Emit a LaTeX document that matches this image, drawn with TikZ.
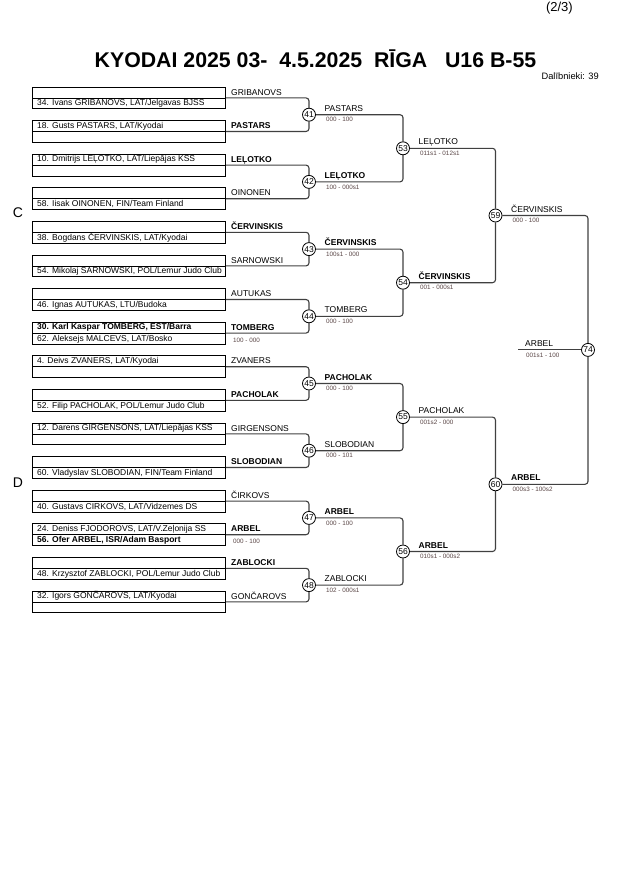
\documentclass[tikz,border=0pt]{standalone}
\usepackage{fontspec}
\setmainfont{Liberation Sans}
\usetikzlibrary{backgrounds}
\newcommand\fsz[1]{\fontsize{#1}{#1}\selectfont}
\definecolor{linecol}{rgb}{0.25,0.25,0.25}
\definecolor{scorecol}{rgb}{0.35,0.27,0.27}
\tikzset{
  entrybox/.style={draw=black, line width=0.8pt, minimum width=193pt, minimum height=21.8pt, inner sep=0pt, outer sep=0pt},
  etext/.style={anchor=base west, inner sep=0pt, font=\fsz{8.5}},
  nlabel/.style={anchor=base west, inner sep=0pt, font=\fsz{8.5}},
  score/.style={anchor=base west, inner sep=0pt, font=\fsz{6.3}, text=scorecol},
  match/.style={circle, draw=black, line width=0.8pt, fill=white, minimum size=13pt, inner sep=0pt, font=\fsz{8.5}},
  bracket/.style={draw=linecol, line width=1.1pt, rounded corners=3pt},
  midline/.style={draw=black, line width=0.8pt},
}
% box: name, y of middle line
\newcommand\ebox[2]{\node[entrybox] (#1) at (128.5,#2) {};\draw[midline] (#1.west) -- (#1.east);}
\newcommand\toptext[2]{\node[etext] at ([xshift=5pt,yshift=3.2pt]#1.west) {#2};}
\newcommand\bottext[2]{\node[etext] at ([xshift=5pt,yshift=-8pt]#1.west) {#2};}
\newcommand\blabel[2]{\node[nlabel] at ([xshift=6pt,yshift=2.8pt]#1.east) {#2};}
\newcommand\bscore[2]{\node[score] at ([xshift=8pt,yshift=-9pt]#1.east) {#2};}
\newcommand\wlabel[3]{\node[nlabel] at ([xshift=15.5pt,yshift=3.5pt]#1.center) {#2};
  \node[score] at ([xshift=17pt,yshift=-7.1pt]#1.center) {#3};}
\begin{document}
\begin{tikzpicture}[x=1pt,y=-1pt]
\useasboundingbox (0,0) rectangle (630,891);

% header
\node[anchor=base east, inner sep=0pt, font=\fsz{13}] (page) at (573,11.3) {(2/3)};
\node[anchor=base, inner sep=0pt, font=\fsz{21.3}\bfseries] (title) at (315.5,67.2) {KYODAI 2025 03-~~4.5.2025~~RĪGA~~~U16 B-55};
\node[anchor=base east, inner sep=0pt, font=\fsz{9.3}] (count) at (599,80) {Dalībnieki: 39};
\node[font=\fsz{14}, inner sep=0pt] (poolC) at (18,213) {C};
\node[font=\fsz{14}, inner sep=0pt] (poolD) at (18,483) {D};

% entry boxes
\ebox{b1}{97.9}   \bottext{b1}{34. Ivans GRIBANOVS, LAT/Jelgavas BJSS} \blabel{b1}{GRIBANOVS}
\ebox{b2}{131.5}  \toptext{b2}{18. Gusts PASTARS, LAT/Kyodai} \blabel{b2}{\bfseries PASTARS}
\ebox{b3}{165.1}  \toptext{b3}{10. Dmitrijs LEĻOTKO, LAT/Liepājas KSS} \blabel{b3}{\bfseries LEĻOTKO}
\ebox{b4}{198.7}  \bottext{b4}{58. Iisak OINONEN, FIN/Team Finland} \blabel{b4}{OINONEN}
\ebox{b5}{232.3}  \bottext{b5}{38. Bogdans ČERVINSKIS, LAT/Kyodai} \blabel{b5}{\bfseries ČERVINSKIS}
\ebox{b6}{265.9}  \bottext{b6}{54. Mikolaj SARNOWSKI, POL/Lemur Judo Club} \blabel{b6}{SARNOWSKI}
\ebox{b7}{299.5}  \bottext{b7}{46. Ignas AUTUKAS, LTU/Budoka} \blabel{b7}{AUTUKAS}
\ebox{b8}{333.1}  \toptext{b8}{\bfseries 30. Karl Kaspar TOMBERG, EST/Barra} \bottext{b8}{62. Aleksejs MALCEVS, LAT/Bosko} \blabel{b8}{\bfseries TOMBERG} \bscore{b8}{100 - 000}
\ebox{b9}{366.7}  \toptext{b9}{4. Deivs ZVANERS, LAT/Kyodai} \blabel{b9}{ZVANERS}
\ebox{b10}{400.3} \bottext{b10}{52. Filip PACHOLAK, POL/Lemur Judo Club} \blabel{b10}{\bfseries PACHOLAK}
\ebox{b11}{433.9} \toptext{b11}{12. Darens GIRGENSONS, LAT/Liepājas KSS} \blabel{b11}{GIRGENSONS}
\ebox{b12}{467.5} \bottext{b12}{60. Vladyslav SLOBODIAN, FIN/Team Finland} \blabel{b12}{\bfseries SLOBODIAN}
\ebox{b13}{501.1} \bottext{b13}{40. Gustavs CIRKOVS, LAT/Vidzemes DS} \blabel{b13}{ČIRKOVS}
\ebox{b14}{534.7} \toptext{b14}{24. Deniss FJODOROVS, LAT/V.Zeļonija SS} \bottext{b14}{\bfseries 56. Ofer ARBEL, ISR/Adam Basport} \blabel{b14}{\bfseries ARBEL} \bscore{b14}{000 - 100}
\ebox{b15}{568.3} \bottext{b15}{48. Krzysztof ZABLOCKI, POL/Lemur Judo Club} \blabel{b15}{\bfseries ZABLOCKI}
\ebox{b16}{601.9} \toptext{b16}{32. Igors GONČAROVS, LAT/Kyodai} \blabel{b16}{GONČAROVS}

% match circles
\node[match] (m41) at (309,114.7) {41};
\node[match] (m42) at (309,181.9) {42};
\node[match] (m43) at (309,249.1) {43};
\node[match] (m44) at (309,316.3) {44};
\node[match] (m45) at (309,383.5) {45};
\node[match] (m46) at (309,450.7) {46};
\node[match] (m47) at (309,517.9) {47};
\node[match] (m48) at (309,585.1) {48};
\node[match] (m53) at (403,148.3) {53};
\node[match] (m54) at (403,282.7) {54};
\node[match] (m55) at (403,417.1) {55};
\node[match] (m56) at (403,551.5) {56};
\node[match] (m59) at (495.5,215.5) {59};
\node[match] (m60) at (495.5,484.3) {60};
\node[match] (m74) at (588,349.9) {74};
\coordinate (fin) at (518,349.9);

% brackets
\begin{scope}[on background layer]
\draw[bracket] (b1.east) -| (m41.north); \draw[bracket] (b2.east) -| (m41.south);
\draw[bracket] (b3.east) -| (m42.north); \draw[bracket] (b4.east) -| (m42.south);
\draw[bracket] (b5.east) -| (m43.north); \draw[bracket] (b6.east) -| (m43.south);
\draw[bracket] (b7.east) -| (m44.north); \draw[bracket] (b8.east) -| (m44.south);
\draw[bracket] (b9.east) -| (m45.north); \draw[bracket] (b10.east) -| (m45.south);
\draw[bracket] (b11.east) -| (m46.north); \draw[bracket] (b12.east) -| (m46.south);
\draw[bracket] (b13.east) -| (m47.north); \draw[bracket] (b14.east) -| (m47.south);
\draw[bracket] (b15.east) -| (m48.north); \draw[bracket] (b16.east) -| (m48.south);
\draw[bracket] (m41.east) -| (m53.north); \draw[bracket] (m42.east) -| (m53.south);
\draw[bracket] (m43.east) -| (m54.north); \draw[bracket] (m44.east) -| (m54.south);
\draw[bracket] (m45.east) -| (m55.north); \draw[bracket] (m46.east) -| (m55.south);
\draw[bracket] (m47.east) -| (m56.north); \draw[bracket] (m48.east) -| (m56.south);
\draw[bracket] (m53.east) -| (m59.north); \draw[bracket] (m54.east) -| (m59.south);
\draw[bracket] (m55.east) -| (m60.north); \draw[bracket] (m56.east) -| (m60.south);
\draw[bracket] (m59.east) -| (m74.north); \draw[bracket] (m60.east) -| (m74.south);
\draw[bracket] (fin) -- (m74.west);
\end{scope}

% winner labels and scores
\wlabel{m41}{PASTARS}{000 - 100}
\wlabel{m42}{\bfseries LEĻOTKO}{100 - 000s1}
\wlabel{m43}{\bfseries ČERVINSKIS}{100s1 - 000}
\wlabel{m44}{TOMBERG}{000 - 100}
\wlabel{m45}{\bfseries PACHOLAK}{000 - 100}
\wlabel{m46}{SLOBODIAN}{000 - 101}
\wlabel{m47}{\bfseries ARBEL}{000 - 100}
\wlabel{m48}{ZABLOCKI}{102 - 000s1}
\wlabel{m53}{LEĻOTKO}{011s1 - 012s1}
\wlabel{m54}{\bfseries ČERVINSKIS}{001 - 000s1}
\wlabel{m55}{PACHOLAK}{001s2 - 000}
\wlabel{m56}{\bfseries ARBEL}{010s1 - 000s2}
\wlabel{m59}{ČERVINSKIS}{000 - 100}
\wlabel{m60}{\bfseries ARBEL}{000s3 - 100s2}
\node[nlabel] (finlab) at ([xshift=7pt,yshift=3.5pt]fin) {ARBEL};
\node[score] (finscore) at ([xshift=8pt,yshift=-7.1pt]fin) {001s1 - 100};
\end{tikzpicture}
\end{document}
